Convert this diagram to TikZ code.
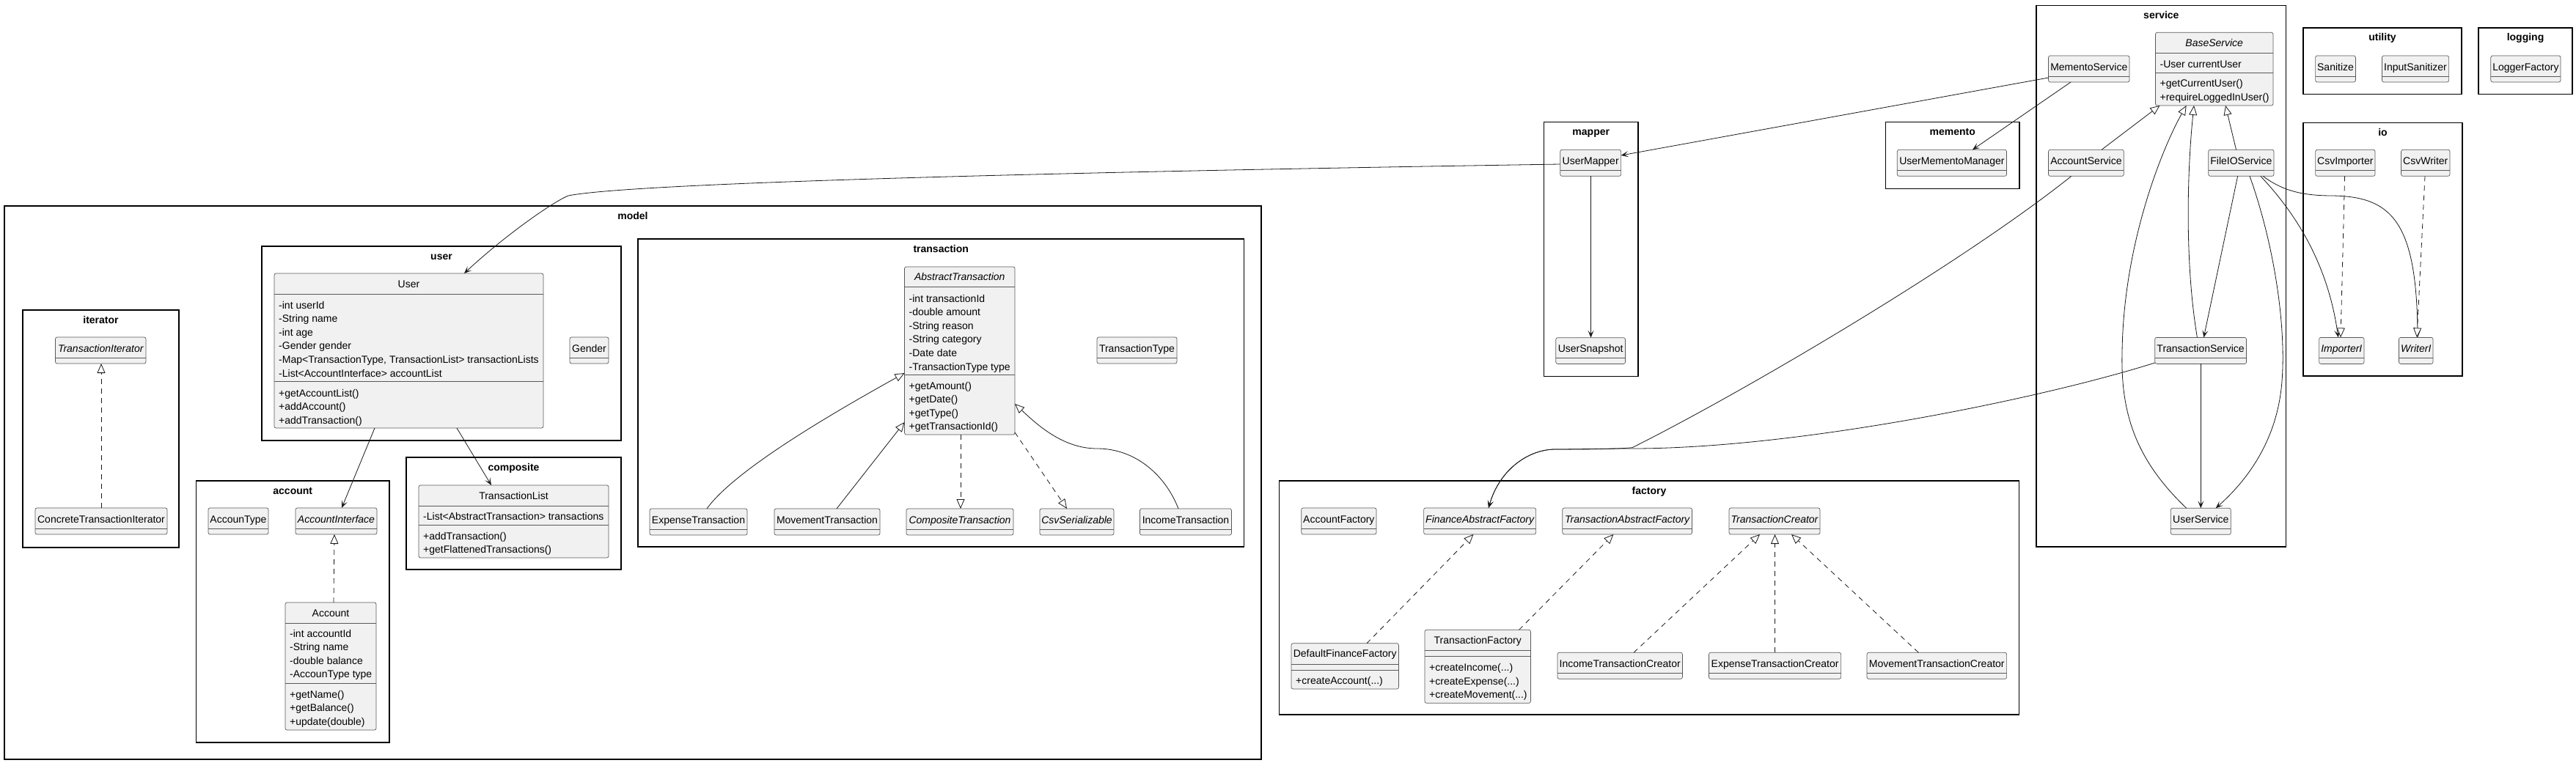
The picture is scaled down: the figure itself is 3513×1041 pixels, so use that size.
\documentclass[tikz,border=0pt]{standalone}
\usepackage{fontspec}
\setmainfont{Liberation Sans}
\usetikzlibrary{arrows.meta,fit,calc}

\newcommand{\tdots}{...}
\newcommand{\ecls}[6]{%
  \node[clsbox, fit={(#2,#3) (#4,#5)}] (#1) {};
  \draw[sepl] (#2,#3+28) -- (#4,#3+28);
  \node[cname] (#1-t) at ({(#2+#4)/2},#3+20) {#6};
}
\newcommand{\fcls}[8]{%
  \node[clsbox, fit={(#2,#3) (#4,#5)}] (#1) {};
  \draw[sepl] (#2,#7) -- (#4,#7);
  \draw[sepl] (#2,#8) -- (#4,#8);
  \node[cname] (#1-t) at ({(#2+#4)/2},{(#3+#7)/2+5}) {#6};
}
\newcommand{\mems}[4]{%
  \foreach \mm [count=\i from 0] in {#4}
    \node[attr] (#1-\i) at (#2,{#3+\i*18.6}) {\mm};
}
\newcommand{\pkg}[6]{%
  \node[frame, fit={(#2,#3) (#4,#5)}] (#1) {};
  \node[plabel] (#1-label) at ($(#1.north)+(0,18)$) {#6};
}

\begin{document}
\begin{tikzpicture}[x=1pt,y=-1pt,
  frame/.style={draw=black, line width=1.5pt, inner sep=0pt, outer sep=0pt},
  plabel/.style={font=\fontsize{14}{16}\selectfont\bfseries, anchor=base, inner sep=0pt},
  clsbox/.style={draw=black!65, fill=black!5.5, line width=0.7pt, rounded corners=2.5pt, inner sep=0pt, outer sep=0pt},
  sepl/.style={draw=black!65, line width=0.7pt},
  cname/.style={font=\fontsize{14}{16}\selectfont, anchor=base, inner sep=0pt},
  attr/.style={font=\fontsize{14}{16}\selectfont, anchor=base west, inner sep=0pt},
  conn/.style={draw=black!90, line width=0.8pt},
  dep/.style={conn, -{Stealth[length=10pt,width=8pt,inset=5pt]}},
  inh/.style={conn, -{Triangle[length=13pt,width=11pt,fill=white]}},
  impl/.style={inh, dash pattern=on 7pt off 6pt},
]
\fill[white] (0,0) rectangle (3513,1041);
\useasboundingbox (0,0) rectangle (3513,1041);

% ---------- packages ----------
\pkg{pkg-model}{6}{281}{1720}{1036}{model}
\pkg{pkg-user}{357}{336}{847}{601}{user}
\pkg{pkg-iterator}{31}{423}{244}{747}{iterator}
\pkg{pkg-account}{267.5}{656}{531}{1013}{account}
\pkg{pkg-composite}{554}{624}{847}{777}{composite}
\pkg{pkg-transaction}{870}{326}{1696.5}{746}{transaction}
\pkg{pkg-mapper}{2105.5}{166.7}{2234}{513.6}{mapper}
\pkg{pkg-memento}{2571.5}{166.7}{2754}{257.5}{memento}
\pkg{pkg-service}{2777}{7.3}{3117.7}{746}{service}
\pkg{pkg-factory}{1744.5}{656}{2753.6}{975}{factory}
\pkg{pkg-utility}{3141}{38}{3357}{128.4}{utility}
\pkg{pkg-logging}{3380}{38}{3508}{128.4}{logging}
\pkg{pkg-io}{3141}{167.4}{3358}{513}{io}

% ---------- classes ----------
% iterator
\ecls{TransactionIterator}{75.5}{460}{199}{496}{\itshape TransactionIterator}
\ecls{ConcreteTransactionIterator}{48}{693}{228}{729}{ConcreteTransactionIterator}
% user
\fcls{User}{374}{373}{741}{584}{User}{401}{520}
\mems{User-a}{380}{421}{-int userId,-String name,-int age,-Gender gender,{-Map<TransactionType, TransactionList> transactionLists},-List<AccountInterface> accountList}
\mems{User-m}{380}{541}{+getAccountList(),+addAccount(),+addTransaction()}
\ecls{Gender}{777}{460}{830}{496}{Gender}
% account
\ecls{AccounType}{284}{693}{366}{729}{AccounType}
\ecls{AccountInterface}{403}{693}{514}{729}{\itshape AccountInterface}
\fcls{Account}{389}{822}{513}{996}{Account}{850}{932}
\mems{Account-a}{395}{869}{-int accountId,-String name,-double balance,-AccounType type}
\mems{Account-m}{395}{952}{+getName(),+getBalance(),+update(double)}
% composite
\fcls{TransactionList}{571}{662}{830}{761}{TransactionList}{690}{716}
\mems{TransactionList-a}{577}{709}{-List<AbstractTransaction> transactions}
\mems{TransactionList-m}{577}{736}{+addTransaction(),+getFlattenedTransactions()}
% transaction
\fcls{AbstractTransaction}{1233.5}{364}{1384}{593}{\itshape AbstractTransaction}{391}{511}
\mems{AbstractTransaction-a}{1239.5}{412}{-int transactionId,-double amount,-String reason,-String category,-Date date,-TransactionType type}
\mems{AbstractTransaction-m}{1239.5}{531}{+getAmount(),+getDate(),+getType(),+getTransactionId()}
\ecls{TransactionType}{1496}{460}{1605}{496}{TransactionType}
\ecls{ExpenseTransaction}{886}{694}{1019}{730}{ExpenseTransaction}
\ecls{MovementTransaction}{1056}{694}{1200}{730}{MovementTransaction}
\ecls{CompositeTransaction}{1236}{694}{1382}{730}{\itshape CompositeTransaction}
\ecls{CsvSerializable}{1418}{694}{1519}{730}{\itshape CsvSerializable}
\ecls{IncomeTransaction}{1554.5}{694}{1679.5}{730}{IncomeTransaction}
% mapper
\ecls{UserMapper}{2127.7}{204.3}{2210.6}{240.3}{UserMapper}
\ecls{UserSnapshot}{2121.8}{460.7}{2216.5}{496.5}{UserSnapshot}
% memento
\ecls{UserMementoManager}{2587.3}{204.3}{2736.5}{240.3}{UserMementoManager}
% service
\fcls{BaseService}{2939.4}{44.3}{3100}{144}{\itshape BaseService}{72.3}{99.3}
\mems{BaseService-a}{2945.4}{92.7}{-User currentUser}
\mems{BaseService-m}{2945.4}{118.7}{+getCurrentUser(),+requireLoggedInUser()}
\ecls{MementoService}{2793.5}{76}{2904}{112}{MementoService}
\ecls{AccountService}{2793.5}{204.3}{2896.3}{240.3}{AccountService}
\ecls{FileIOService}{3011.7}{204.3}{3101}{240.3}{FileIOService}
\ecls{TransactionService}{2938.7}{460.4}{3063.5}{496.4}{TransactionService}
\ecls{UserService}{2960.3}{693.3}{3042.3}{729.3}{UserService}
% utility, logging, io
\ecls{Sanitize}{3157.6}{76}{3212.4}{112}{Sanitize}
\ecls{InputSanitizer}{3248.4}{76}{3339.6}{112}{InputSanitizer}
\ecls{LoggerFactory}{3396.8}{76}{3492}{112}{LoggerFactory}
\ecls{CsvImporter}{3157.6}{204.3}{3239}{240.3}{CsvImporter}
\ecls{CsvWriter}{3274.5}{204.3}{3341}{240.3}{CsvWriter}
\ecls{ImporterI}{3162.6}{460.4}{3224}{496.4}{\itshape ImporterI}
\ecls{WriterI}{3271.5}{460.4}{3318}{496.4}{\itshape WriterI}
% factory
\ecls{AccountFactory}{1774.7}{693}{1877}{729}{AccountFactory}
\ecls{FinanceAbstractFactory}{1941.6}{693}{2094.6}{729}{\itshape FinanceAbstractFactory}
\ecls{TransactionAbstractFactory}{2130.8}{693}{2307.5}{729}{\itshape TransactionAbstractFactory}
\ecls{TransactionCreator}{2358}{693}{2482}{729}{\itshape TransactionCreator}
\fcls{DefaultFinanceFactory}{1761}{877.7}{1907.4}{940}{DefaultFinanceFactory}{906}{914.3}
\mems{DefaultFinanceFactory-m}{1767}{933.7}{+createAccount(\tdots)}
\fcls{TransactionFactory}{1943}{859.3}{2087.4}{959.3}{TransactionFactory}{887.3}{895.7}
\mems{TransactionFactory-m}{1949}{915.7}{+createIncome(\tdots),+createExpense(\tdots),+createMovement(\tdots)}
\ecls{IncomeTransactionCreator}{2124}{890.3}{2294.4}{926.3}{IncomeTransactionCreator}
\ecls{ExpenseTransactionCreator}{2330.5}{890.3}{2510.6}{926.3}{ExpenseTransactionCreator}
\ecls{MovementTransactionCreator}{2546}{890.3}{2736.6}{926.3}{MovementTransactionCreator}

% ---------- connectors ----------
% model
\draw[dep] (UserMapper.west |- 0,224) .. controls (1300,237) and (850,252) .. (775,267) .. controls (755,275) and (690,320) .. (User.north -| 633,0);
\draw[dep] (User.south -| 511,0) -- (AccountInterface.north -| 466,0);
\draw[dep] (User.south -| 623,0) -- (TransactionList.north -| 670,0);
\draw[impl] (ConcreteTransactionIterator.north -| 138,0) -- (TransactionIterator.south -| 138,0);
\draw[impl] (Account.north -| 455,0) -- (AccountInterface.south -| 456,0);
\draw[inh] (ExpenseTransaction.north -| 964,0) .. controls (1004,638) and (1153,554) .. (AbstractTransaction.west |- 0,509);
\draw[inh] (MovementTransaction.north -| 1141,0) -- (AbstractTransaction.west |- 0,576);
\draw[impl] (AbstractTransaction.south -| 1310,0) -- (CompositeTransaction.north -| 1310,0);
\draw[impl] (AbstractTransaction.east |- 0,590) -- (CsvSerializable.north -| 1455,0);
\draw[inh] (IncomeTransaction.north -| 1607,0) .. controls (1590,650) and (1550,612) .. (1496,612) .. controls (1450,612) and (1415,580) .. (AbstractTransaction.east |- 0,551);
% mapper / memento
\draw[dep] (MementoService.west |- 0,106) -- (UserMapper.east |- 0,212);
\draw[dep] (MementoService.south -| 2824,0) -- (UserMementoManager.north -| 2690,0);
\draw[dep] (UserMapper.south -| 2169.5,0) -- (UserSnapshot.north -| 2169.5,0);
% service
\draw[inh] (AccountService.north -| 2866,0) -- (BaseService.south -| 2945.4,0);
\draw[inh] (FileIOService.north -| 3049.5,0) -- (BaseService.south -| 3035,0);
\draw[inh] (TransactionService.north -| 2996.4,0) .. controls (2978,350) and (2984,220) .. (BaseService.south -| 2992,0);
\draw[inh] (UserService.north -| 2981.7,0) .. controls (2910,625) and (2892,560) .. (2894,480) .. controls (2896,330) and (2950,200) .. (BaseService.south -| 2981.6,0);
\draw[dep] (TransactionService.south -| 3001.3,0) -- (UserService.north -| 3001.3,0);
\draw[dep] (FileIOService.south -| 3051.6,0) -- (TransactionService.north -| 3005.3,0);
\draw[dep] (FileIOService.south -| 3068,0) .. controls (3100,330) and (3118,440) .. (3112,520) .. controls (3106,600) and (3065,655) .. (UserService.north -| 3021.7,0);
\draw[dep] (FileIOService.south -| 3082.7,0) .. controls (3130,290) and (3175,360) .. (ImporterI.north -| 3188.7,0);
\draw[dep] (FileIOService.south -| 3086,0) .. controls (3110,258) and (3135,267) .. (3180,267) .. controls (3260,268) and (3296,300) .. (WriterI.north -| 3297,0);
% io
\draw[impl] (CsvImporter.south -| 3197.6,0) -- (ImporterI.north -| 3192,0);
\draw[impl] (CsvWriter.south -| 3307,0) -- (WriterI.north -| 3296,0);
% factory
\draw[dep] (AccountService.south -| 2824.8,0) .. controls (2675,360) and (2376,535.7) .. (2226,610.7) .. controls (2200,613) and (2160,613) .. (2121,613) .. controls (2085,613) and (2045,640) .. (FinanceAbstractFactory.north -| 2030,0);
\draw[dep] (TransactionService.west |- 0,495) .. controls (2780,545) and (2450,612) .. (2226,612) .. controls (2180,612) and (2150,613) .. (2121,613) .. controls (2085,613) and (2045,640) .. (FinanceAbstractFactory.north -| 2030,0);
\draw[impl] (DefaultFinanceFactory.north -| 1864,0) -- (FinanceAbstractFactory.south -| 2009.4,0);
\draw[impl] (TransactionFactory.north -| 2071.6,0) -- (TransactionAbstractFactory.south -| 2200.4,0);
\draw[impl] (IncomeTransactionCreator.north -| 2228,0) -- (TransactionCreator.south -| 2400,0);
\draw[impl] (ExpenseTransactionCreator.north -| 2420.5,0) -- (TransactionCreator.south -| 2420.5,0);
\draw[impl] (MovementTransactionCreator.north -| 2616.3,0) -- (TransactionCreator.south -| 2443,0);
\end{tikzpicture}
\end{document}
